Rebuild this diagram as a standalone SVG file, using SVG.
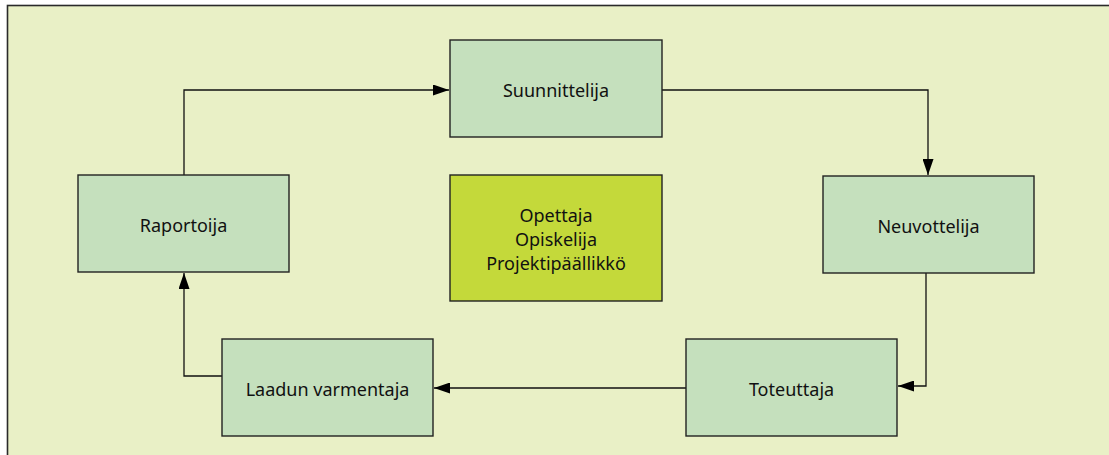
<svg xmlns="http://www.w3.org/2000/svg" width="1109" height="455" viewBox="0 0 1109 455">
<defs>
<style>
.bg{fill:#E9F0C6;stroke:#2a2a2a;stroke-width:1.6}
.box{fill:#C5E0BD;stroke:#222;stroke-width:1.4}
.ctr{fill:#C4D93A;stroke:#222;stroke-width:1.4}
.lbl{font-family:"Noto Sans","Open Sans",sans-serif;font-size:18px;fill:#111;text-anchor:middle}
.con{fill:none;stroke:#111;stroke-width:1.3}
</style>
<marker id="arr" viewBox="0 0 16 11" refX="16" refY="5.5" markerWidth="16" markerHeight="11" markerUnits="userSpaceOnUse" orient="auto">
<path d="M0,0 L16,5.5 L0,11 Z" fill="#000"/>
</marker>
</defs>
<rect class="bg" x="7.5" y="5.5" width="1110" height="460"/>
<g id="connectors">
<path class="con" d="M184,175 V90 H449" marker-end="url(#arr)"/>
<path class="con" d="M662,90 H928 V175" marker-end="url(#arr)"/>
<path class="con" d="M926,273 V386 H898" marker-end="url(#arr)"/>
<path class="con" d="M686,388 H434" marker-end="url(#arr)"/>
<path class="con" d="M222,376 H184 V273" marker-end="url(#arr)"/>
</g>
<g id="suunnittelija">
<rect class="box" x="450" y="40" width="212" height="97"/>
<text class="lbl" x="556" y="97">Suunnittelija</text>
</g>
<g id="neuvottelija">
<rect class="box" x="823" y="176" width="211" height="97"/>
<text class="lbl" x="928.5" y="233">Neuvottelija</text>
</g>
<g id="toteuttaja">
<rect class="box" x="686" y="339" width="211" height="97"/>
<text class="lbl" x="791.5" y="396">Toteuttaja</text>
</g>
<g id="laadun-varmentaja">
<rect class="box" x="222" y="339" width="211" height="97"/>
<text class="lbl" x="327.5" y="396">Laadun varmentaja</text>
</g>
<g id="raportoija">
<rect class="box" x="78" y="175" width="211" height="97"/>
<text class="lbl" x="183.5" y="232">Raportoija</text>
</g>
<g id="roolit">
<rect class="ctr" x="450" y="175" width="212" height="126"/>
<text class="lbl" x="556" y="222">Opettaja</text>
<text class="lbl" x="556" y="246">Opiskelija</text>
<text class="lbl" x="556" y="270">Projektipäällikkö</text>
</g>
</svg>
